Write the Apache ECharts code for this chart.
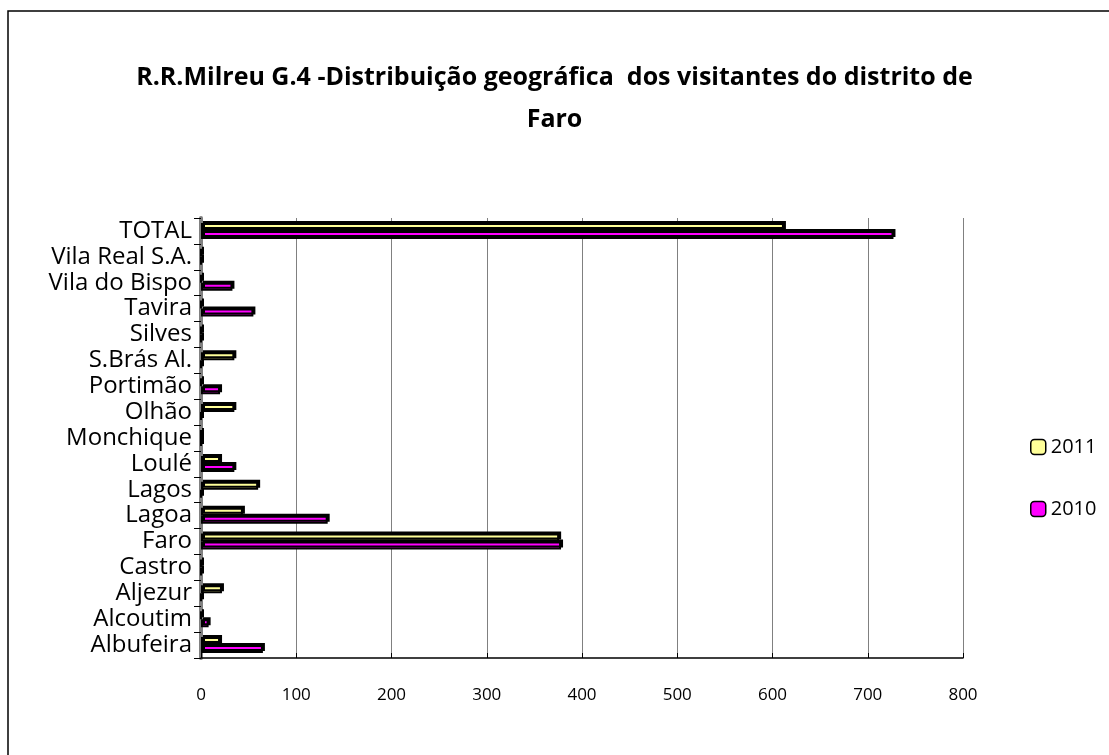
<!DOCTYPE html>
<html>
<head>
<meta charset="utf-8">
<script src="https://cdn.jsdelivr.net/npm/echarts@6/dist/echarts.min.js"></script>
<style>
  html, body { margin: 0; padding: 0; background: #fff; }
  #main { width: 1109px; height: 755px; }
</style>
</head>
<body>
<div id="main"></div>
<script>
// concelhos, de baixo para cima
var categories = ["Albufeira", "Alcoutim", "Aljezur", "Castro", "Faro", "Lagoa", "Lagos", "Loulé",
  "Monchique", "Olhão", "Portimão", "S.Brás Al.", "Silves", "Tavira", "Vila do Bispo", "Vila Real S.A.", "TOTAL"];
var values2011 = [20, 0, 22, 0, 376, 44, 60, 20, 0, 35, 0, 35, 0, 0, 0, 0, 612];
var values2010 = [65, 8, 0, 0, 378, 133, 0, 35, 0, 0, 20, 0, 0, 55, 33, 0, 727];
var xTicks = [0, 100, 200, 300, 400, 500, 600, 700, 800];

var font = "'Open Sans', 'DejaVu Sans', sans-serif";

var barStyle = function (color) {
  return {
    color: color,
    borderColor: "#000",
    borderWidth: 2,
    shadowColor: "#000",
    shadowBlur: 0,
    shadowOffsetX: 2,
    shadowOffsetY: -2,
  };
};

var myChart = echarts.init(document.getElementById("main"));
myChart.setOption({
  animation: false,
  title: {
    text: "R.R.Milreu G.4 -Distribuição geográfica  dos visitantes do distrito de\nFaro",
    left: "center",
    top: 52,
    textStyle: {
      fontFamily: font,
      fontSize: 25,
      fontWeight: "bold",
      color: "#000",
      lineHeight: 42,
    },
  },
  graphic: [
    {
      type: "rect",
      shape: { x: 8, y: 11, width: 1120, height: 760 },
      style: { fill: null, stroke: "#000", lineWidth: 1.5 },
      silent: true,
    },
  ],
  legend: {
    orient: "vertical",
    left: 1025,
    top: 432,
    itemWidth: 15,
    itemHeight: 15,
    itemGap: 42,
    data: ["2011", "2010"],
    textStyle: { fontFamily: font, fontSize: 20, color: "#000" },
    itemStyle: { borderColor: "#000", borderWidth: 1.5 },
  },
  grid: {
    left: 201,
    right: 146,
    top: 218,
    bottom: 97,
  },
  xAxis: {
    type: "value",
    min: xTicks[0],
    max: xTicks[xTicks.length - 1],
    interval: 100,
    axisLine: { show: true, lineStyle: { color: "#000", width: 1.5 } },
    axisTick: { show: true, length: 5, inside: true, lineStyle: { color: "#000" } },
    axisLabel: {
      margin: 29,
      fontFamily: font,
      fontSize: 17,
      color: "#000",
    },
    splitLine: { show: true, lineStyle: { color: "#808080", width: 1 } },
  },
  yAxis: {
    type: "category",
    data: categories,
    axisLine: { show: true, lineStyle: { color: "#808080", width: 4 } },
    axisTick: { show: true, length: 7, lineStyle: { color: "#000" } },
    axisLabel: {
      interval: 0,
      margin: 9,
      fontFamily: font,
      fontSize: 24,
      color: "#000",
    },
  },
  series: [
    {
      name: "2011",
      type: "bar",
      barWidth: 8,
      barGap: "0%",
      data: values2011,
      itemStyle: barStyle("#FFFF99"),
    },
    {
      name: "2010",
      type: "bar",
      barWidth: 8,
      barGap: "0%",
      data: values2010,
      itemStyle: barStyle("#FF00FF"),
    },
  ],
});
</script>
</body>
</html>
